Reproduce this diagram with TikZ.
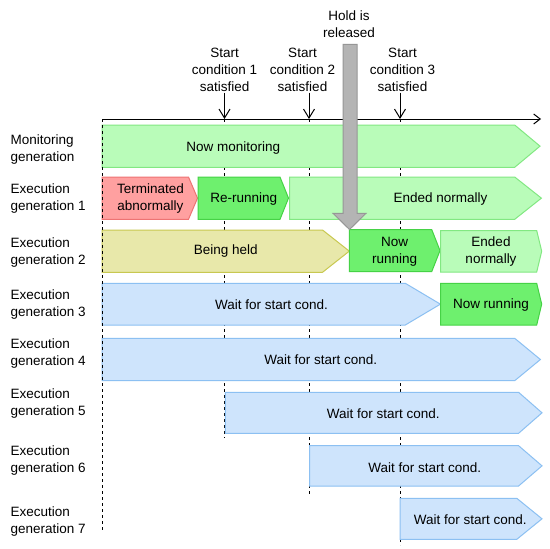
\documentclass[tikz,border=0pt]{standalone}
\usepackage{fontspec}
\setmainfont{Liberation Sans}
\usetikzlibrary{arrows.meta}
\definecolor{lgfill}{RGB}{185,252,185}
\definecolor{lgdraw}{RGB}{130,232,130}
\definecolor{mgfill}{RGB}{110,240,110}
\definecolor{mgdraw}{RGB}{70,210,70}
\definecolor{rdfill}{RGB}{255,160,160}
\definecolor{rddraw}{RGB}{238,115,115}
\definecolor{ylfill}{RGB}{232,232,170}
\definecolor{yldraw}{RGB}{200,200,80}
\definecolor{blfill}{RGB}{206,228,252}
\definecolor{bldraw}{RGB}{140,192,242}
\definecolor{gyfill}{RGB}{180,180,180}
\definecolor{gydraw}{RGB}{150,150,150}
\newcommand\chevbar[6]{\draw[#1] (#2,#5) -- (#3,#5) -- (#4,{(#5+#6)/2}) -- (#3,#6) -- (#2,#6) -- cycle;}
\begin{document}
\begin{tikzpicture}[x=1pt,y=-1pt,
  font=\fontsize{13.5}{17}\selectfont,
  lightbar/.style={fill=lgfill,draw=lgdraw,line width=1pt},
  runbar/.style={fill=mgfill,draw=mgdraw,line width=1pt},
  errbar/.style={fill=rdfill,draw=rddraw,line width=1pt},
  holdbar/.style={fill=ylfill,draw=yldraw,line width=1pt},
  waitbar/.style={fill=blfill,draw=bldraw,line width=1pt},
  releasearrow/.style={fill=gyfill,draw=gydraw,line width=1pt},
  guide/.style={dash pattern=on 3pt off 3pt,line width=0.8pt},
  txt/.style={align=center,inner sep=0pt,yshift=-1.5pt},
  lbl/.style={anchor=west,align=left,inner sep=0pt,yshift=-1.5pt},
  condarrow/.style={line width=1pt,-{Straight Barb[length=9pt,width=11pt]}},
  axisarrow/.style={line width=1pt,-{Straight Barb[length=6.5pt,width=10pt]}}]
\useasboundingbox (0,0) rectangle (550,549);
\fill[white] (0,0) rectangle (550,549);
% guide lines
\coordinate (g1t) at (224.5,119); \coordinate (g1b) at (224.5,438);
\coordinate (g2t) at (309,119); \coordinate (g2b) at (309,495);
\coordinate (g3t) at (400,119); \coordinate (g3b) at (400,545);
\coordinate (g0t) at (102,119); \coordinate (g0b) at (102,532);
\draw[guide] (g1t) -- (g1b);
\draw[guide] (g2t) -- (g2b);
\draw[guide] (g3t) -- (g3b);
% bars
\chevbar{lightbar}{102}{514.7}{540}{125}{167.3}
\chevbar{errbar}{102}{188.5}{197.5}{177}{219.3}
\chevbar{runbar}{198.2}{280}{288.5}{177}{219.3}
\chevbar{lightbar}{289.5}{514.7}{541.4}{177}{219.3}
\chevbar{holdbar}{102}{322.5}{349.3}{230}{272.3}
\chevbar{runbar}{349.3}{431.7}{440}{229.5}{271.7}
\chevbar{lightbar}{440.7}{536.7}{541.7}{230.5}{272}
\chevbar{waitbar}{102}{405.3}{440.4}{283.3}{325}
\chevbar{runbar}{440.7}{536.7}{541.7}{283.3}{325}
\chevbar{waitbar}{102}{514.7}{540.4}{338.3}{380.7}
\chevbar{waitbar}{225.3}{518.6}{542}{392.3}{433.3}
\chevbar{waitbar}{309.5}{518.6}{542}{445.7}{486}
\chevbar{waitbar}{400}{516.8}{542}{498.3}{539.3}
\draw[guide] (g0t) -- (g0b);
% axis
\coordinate (ax1) at (541,119);
\draw[axisarrow] (g0t) -- (ax1);
% condition labels and arrows
\node[txt] (s1) at (224.6,68.3) {Start\\condition 1\\satisfied};
\node[txt] (s2) at (302.5,68.3) {Start\\condition 2\\satisfied};
\node[txt] (s3) at (402.5,68.3) {Start\\condition 3\\satisfied};
\coordinate (a1) at (224.5,92.5);
\coordinate (a2) at (309,92.5);
\coordinate (a3) at (400,92.5);
\draw[condarrow] (a1) -- (g1t);
\draw[condarrow] (a2) -- (g2t);
\draw[condarrow] (a3) -- (g3t);
% hold released arrow
\node[txt] (hold) at (349,22.7) {Hold is\\released};
\draw[releasearrow] (343,44.3) -- (357,44.3) -- (357,213.3) -- (366,213.3) -- (349.5,229.5) -- (333,213.3) -- (343,213.3) -- cycle;
% row labels
\node[lbl] (mon) at (10.5,148) {Monitoring\\generation};
\node[lbl] (e1) at (10.5,197.3) {Execution\\generation 1};
\node[lbl] (e2) at (10.5,250.7) {Execution\\generation 2};
\node[lbl] (e3) at (10.5,303.3) {Execution\\generation 3};
\node[lbl] (e4) at (10.5,352) {Execution\\generation 4};
\node[lbl] (e5) at (10.5,402.5) {Execution\\generation 5};
\node[lbl] (e6) at (10.5,459.3) {Execution\\generation 6};
\node[lbl] (e7) at (10.5,519.7) {Execution\\generation 7};
% bar texts
\node[txt] (t0) at (233.3,146.7) {Now monitoring};
\node[txt] (t1a) at (150.4,197.2) {Terminated\\abnormally};
\node[txt] (t1b) at (243.7,198) {Re-running};
\node[txt] (t1c) at (440.4,198) {Ended normally};
\node[txt] (t2a) at (225.8,250) {Being held};
\node[txt] (t2b) at (394.7,250) {Now\\running};
\node[txt] (t2c) at (491,250) {Ended\\normally};
\node[txt] (t3a) at (271.6,303.5) {Wait for start cond.};
\node[txt] (t3b) at (490.9,303.5) {Now running};
\node[txt] (t4) at (320.7,358.3) {Wait for start cond.};
\node[txt] (t5) at (383.3,411.7) {Wait for start cond.};
\node[txt] (t6) at (424.7,465.7) {Wait for start cond.};
\node[txt] (t7) at (470.2,518.3) {Wait for start cond.};
\end{tikzpicture}
\end{document}
